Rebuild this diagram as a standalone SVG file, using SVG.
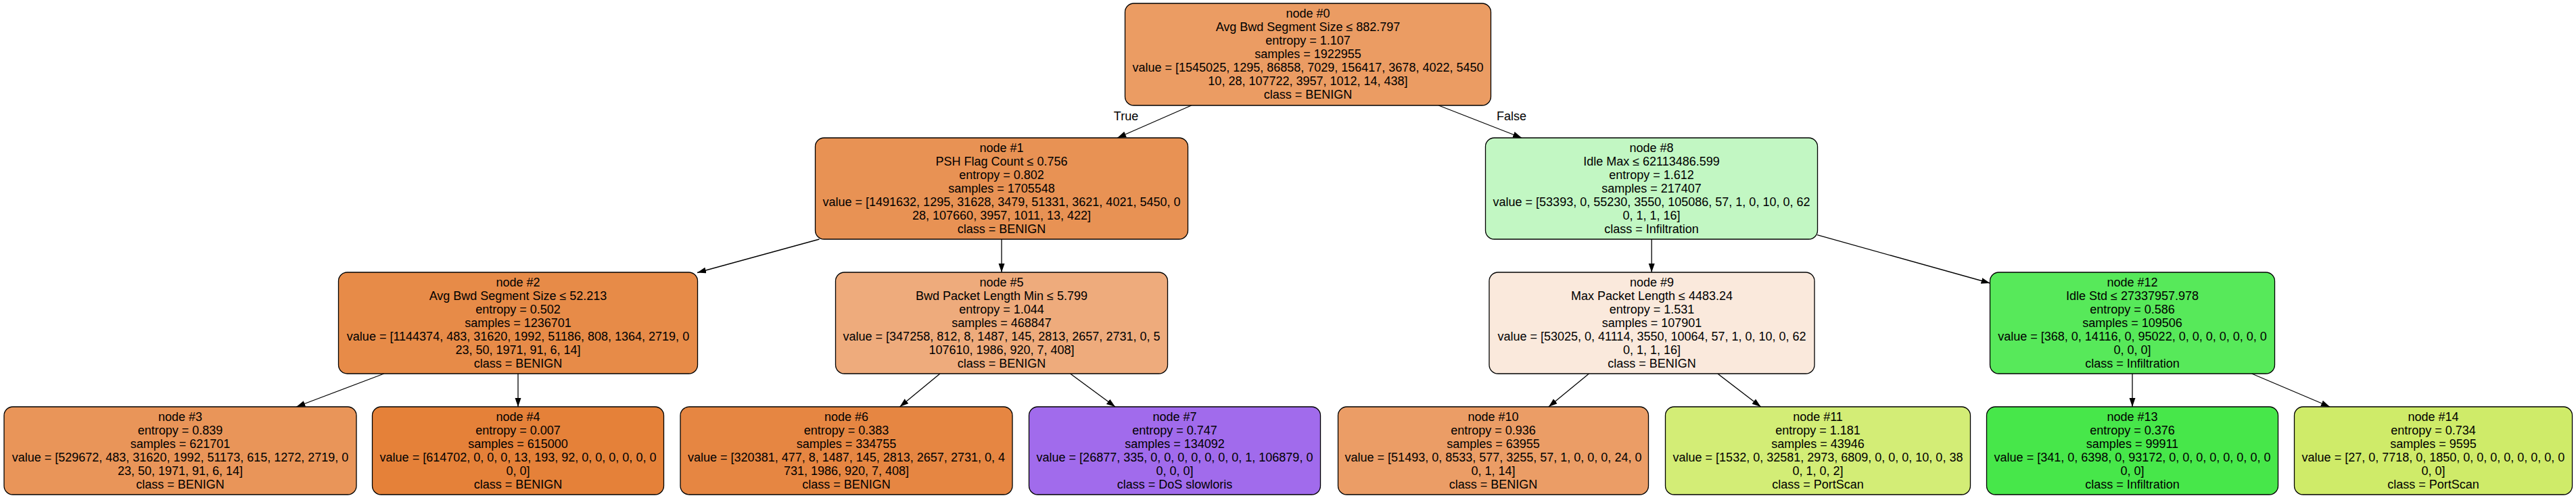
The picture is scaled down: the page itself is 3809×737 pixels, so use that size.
<svg xmlns="http://www.w3.org/2000/svg" width="3809" height="737" viewBox="0 0 3809 737">
<defs>
<style>
.n rect{stroke:#000;stroke-width:1.3}
text{font-family:"Liberation Sans",Arial,Helvetica,sans-serif;font-size:18px;fill:#000;text-anchor:middle}
.e line{stroke:#000;stroke-width:1.3;marker-end:url(#ah)}
</style>
<marker id="ah" markerUnits="userSpaceOnUse" markerWidth="14" markerHeight="10" refX="13" refY="4.5" orient="auto"><path d="M0,0 L13,4.5 L0,9 z" fill="#000"/></marker>
</defs>
<rect width="3809" height="737" fill="#fff"/>
<g id="connectors" class="e">
<line x1="1761.7" y1="156" x2="1652.2" y2="204"/>
<line x1="2127.2" y1="156" x2="2250.1" y2="204"/>
<line x1="1211.5" y1="354" x2="1031" y2="403.5"/>
<line x1="1481" y1="354" x2="1481" y2="403"/>
<line x1="2442.2" y1="354" x2="2442.2" y2="403"/>
<line x1="2687" y1="347.6" x2="2942.5" y2="419"/>
<line x1="567.8" y1="553" x2="438.3" y2="602"/>
<line x1="766" y1="553" x2="766" y2="602"/>
<line x1="1389.9" y1="553" x2="1330.5" y2="602"/>
<line x1="1582.6" y1="553" x2="1649" y2="602"/>
<line x1="2349.5" y1="553" x2="2289.9" y2="602"/>
<line x1="2539.9" y1="553" x2="2603.6" y2="602"/>
<line x1="3153" y1="553" x2="3153" y2="602"/>
<line x1="3329.6" y1="553" x2="3445" y2="602"/>
<text x="1665" y="178">True</text>
<text x="2235" y="178">False</text>
</g>
<g id="node0" class="n"><rect x="1663.5" y="5" width="541" height="151" rx="13" fill="#eb9c63"/>
<text x="1934" y="26">node #0</text><text x="1934" y="46">Avg Bwd Segment Size ≤ 882.797</text><text x="1934" y="66">entropy = 1.107</text><text x="1934" y="86">samples = 1922955</text><text x="1934" y="106">value = [1545025, 1295, 86858, 7029, 156417, 3678, 4022, 5450</text><text x="1934" y="126">10, 28, 107722, 3957, 1012, 14, 438]</text><text x="1934" y="146">class = BENIGN</text></g>
<g id="node1" class="n"><rect x="1205.5" y="204" width="551" height="150" rx="13" fill="#e89254"/>
<text x="1481" y="225">node #1</text><text x="1481" y="245">PSH Flag Count ≤ 0.756</text><text x="1481" y="265">entropy = 0.802</text><text x="1481" y="285">samples = 1705548</text><text x="1481" y="305">value = [1491632, 1295, 31628, 3479, 51331, 3621, 4021, 5450, 0</text><text x="1481" y="325">28, 107660, 3957, 1011, 13, 422]</text><text x="1481" y="345">class = BENIGN</text></g>
<g id="node8" class="n"><rect x="2196.5" y="204" width="491" height="150" rx="13" fill="#c2f7c3"/>
<text x="2442" y="225">node #8</text><text x="2442" y="245">Idle Max ≤ 62113486.599</text><text x="2442" y="265">entropy = 1.612</text><text x="2442" y="285">samples = 217407</text><text x="2442" y="305">value = [53393, 0, 55230, 3550, 105086, 57, 1, 0, 10, 0, 62</text><text x="2442" y="325">0, 1, 1, 16]</text><text x="2442" y="345">class = Infiltration</text></g>
<g id="node2" class="n"><rect x="500.5" y="403" width="531" height="150" rx="13" fill="#e78b48"/>
<text x="766" y="424">node #2</text><text x="766" y="444">Avg Bwd Segment Size ≤ 52.213</text><text x="766" y="464">entropy = 0.502</text><text x="766" y="484">samples = 1236701</text><text x="766" y="504">value = [1144374, 483, 31620, 1992, 51186, 808, 1364, 2719, 0</text><text x="766" y="524">23, 50, 1971, 91, 6, 14]</text><text x="766" y="544">class = BENIGN</text></g>
<g id="node5" class="n"><rect x="1235.5" y="403" width="491" height="150" rx="13" fill="#eeab7c"/>
<text x="1481" y="424">node #5</text><text x="1481" y="444">Bwd Packet Length Min ≤ 5.799</text><text x="1481" y="464">entropy = 1.044</text><text x="1481" y="484">samples = 468847</text><text x="1481" y="504">value = [347258, 812, 8, 1487, 145, 2813, 2657, 2731, 0, 5</text><text x="1481" y="524">107610, 1986, 920, 7, 408]</text><text x="1481" y="544">class = BENIGN</text></g>
<g id="node9" class="n"><rect x="2202" y="403" width="481" height="150" rx="13" fill="#fae9dc"/>
<text x="2442.5" y="424">node #9</text><text x="2442.5" y="444">Max Packet Length ≤ 4483.24</text><text x="2442.5" y="464">entropy = 1.531</text><text x="2442.5" y="484">samples = 107901</text><text x="2442.5" y="504">value = [53025, 0, 41114, 3550, 10064, 57, 1, 0, 10, 0, 62</text><text x="2442.5" y="524">0, 1, 1, 16]</text><text x="2442.5" y="544">class = BENIGN</text></g>
<g id="node12" class="n"><rect x="2942.5" y="403" width="421" height="150" rx="13" fill="#57e95a"/>
<text x="3153" y="424">node #12</text><text x="3153" y="444">Idle Std ≤ 27337957.978</text><text x="3153" y="464">entropy = 0.586</text><text x="3153" y="484">samples = 109506</text><text x="3153" y="504">value = [368, 0, 14116, 0, 95022, 0, 0, 0, 0, 0, 0, 0</text><text x="3153" y="524">0, 0, 0]</text><text x="3153" y="544">class = Infiltration</text></g>
<g id="node3" class="n"><rect x="6" y="602" width="521" height="130" rx="13" fill="#e99559"/>
<text x="266.5" y="623">node #3</text><text x="266.5" y="643">entropy = 0.839</text><text x="266.5" y="663">samples = 621701</text><text x="266.5" y="683">value = [529672, 483, 31620, 1992, 51173, 615, 1272, 2719, 0</text><text x="266.5" y="703">23, 50, 1971, 91, 6, 14]</text><text x="266.5" y="723">class = BENIGN</text></g>
<g id="node4" class="n"><rect x="550.5" y="602" width="431" height="130" rx="13" fill="#e58139"/>
<text x="766" y="623">node #4</text><text x="766" y="643">entropy = 0.007</text><text x="766" y="663">samples = 615000</text><text x="766" y="683">value = [614702, 0, 0, 0, 13, 193, 92, 0, 0, 0, 0, 0, 0</text><text x="766" y="703">0, 0]</text><text x="766" y="723">class = BENIGN</text></g>
<g id="node6" class="n"><rect x="1006" y="602" width="491" height="130" rx="13" fill="#e68642"/>
<text x="1251.5" y="623">node #6</text><text x="1251.5" y="643">entropy = 0.383</text><text x="1251.5" y="663">samples = 334755</text><text x="1251.5" y="683">value = [320381, 477, 8, 1487, 145, 2813, 2657, 2731, 0, 4</text><text x="1251.5" y="703">731, 1986, 920, 7, 408]</text><text x="1251.5" y="723">class = BENIGN</text></g>
<g id="node7" class="n"><rect x="1521.5" y="602" width="431" height="130" rx="13" fill="#a16bec"/>
<text x="1737" y="623">node #7</text><text x="1737" y="643">entropy = 0.747</text><text x="1737" y="663">samples = 134092</text><text x="1737" y="683">value = [26877, 335, 0, 0, 0, 0, 0, 0, 0, 1, 106879, 0</text><text x="1737" y="703">0, 0, 0]</text><text x="1737" y="723">class = DoS slowloris</text></g>
<g id="node10" class="n"><rect x="1978.5" y="602" width="459" height="130" rx="13" fill="#eb9d66"/>
<text x="2208" y="623">node #10</text><text x="2208" y="643">entropy = 0.936</text><text x="2208" y="663">samples = 63955</text><text x="2208" y="683">value = [51493, 0, 8533, 577, 3255, 57, 1, 0, 0, 0, 24, 0</text><text x="2208" y="703">0, 1, 14]</text><text x="2208" y="723">class = BENIGN</text></g>
<g id="node11" class="n"><rect x="2462.5" y="602" width="451" height="130" rx="13" fill="#d3ed76"/>
<text x="2688" y="623">node #11</text><text x="2688" y="643">entropy = 1.181</text><text x="2688" y="663">samples = 43946</text><text x="2688" y="683">value = [1532, 0, 32581, 2973, 6809, 0, 0, 0, 10, 0, 38</text><text x="2688" y="703">0, 1, 0, 2]</text><text x="2688" y="723">class = PortScan</text></g>
<g id="node13" class="n"><rect x="2937.5" y="602" width="431" height="130" rx="13" fill="#47e74a"/>
<text x="3153" y="623">node #13</text><text x="3153" y="643">entropy = 0.376</text><text x="3153" y="663">samples = 99911</text><text x="3153" y="683">value = [341, 0, 6398, 0, 93172, 0, 0, 0, 0, 0, 0, 0, 0</text><text x="3153" y="703">0, 0]</text><text x="3153" y="723">class = Infiltration</text></g>
<g id="node14" class="n"><rect x="3392.5" y="602" width="411" height="130" rx="13" fill="#cfeb69"/>
<text x="3598" y="623">node #14</text><text x="3598" y="643">entropy = 0.734</text><text x="3598" y="663">samples = 9595</text><text x="3598" y="683">value = [27, 0, 7718, 0, 1850, 0, 0, 0, 0, 0, 0, 0, 0</text><text x="3598" y="703">0, 0]</text><text x="3598" y="723">class = PortScan</text></g>
</svg>
